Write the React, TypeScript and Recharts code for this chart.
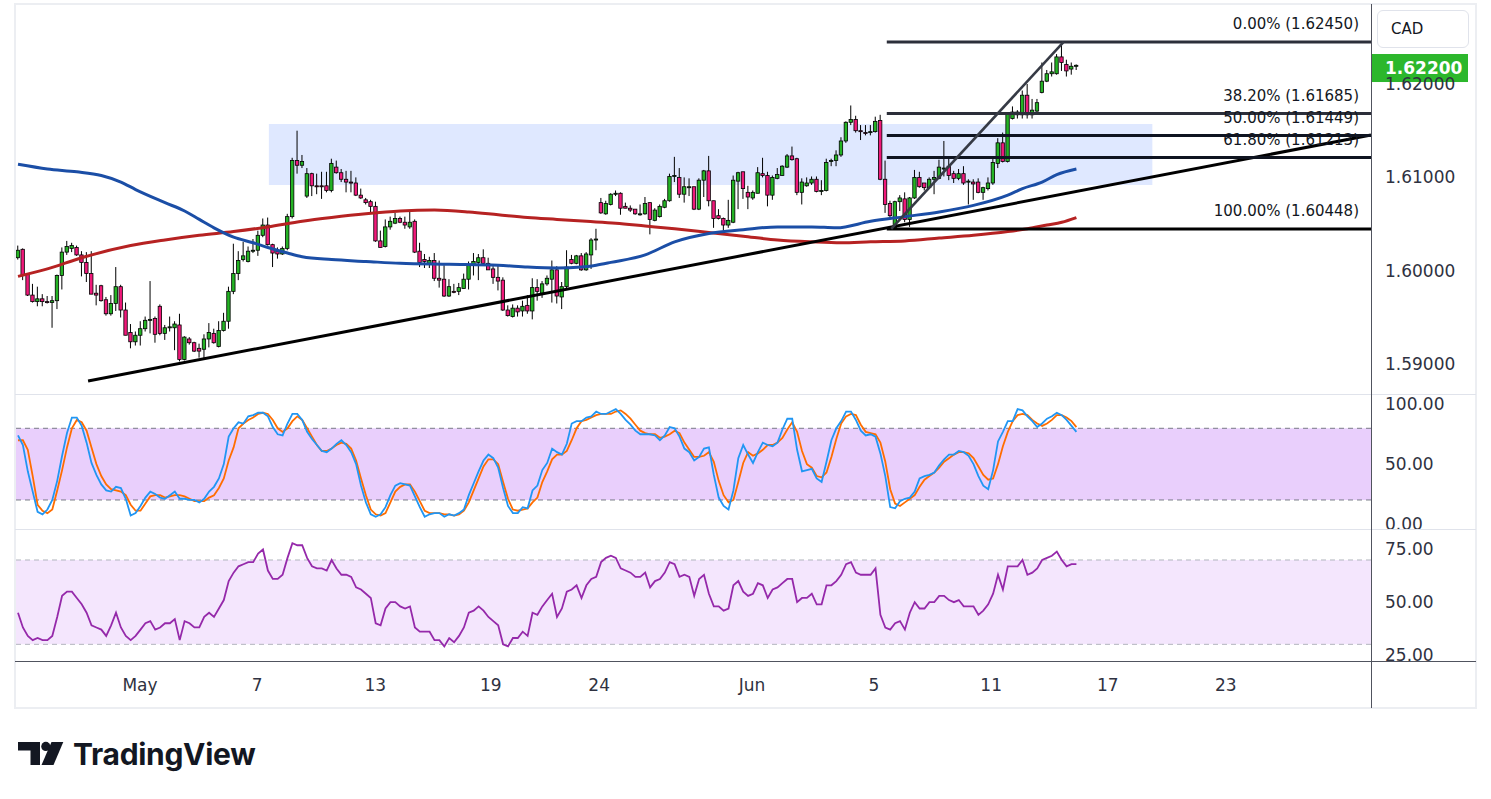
import React from "react";
import {
  Bar,
  ComposedChart,
  Line,
  ReferenceArea,
  ReferenceLine,
  XAxis,
  YAxis,
} from "recharts";

// EUR/CAD style 4h chart.
// One tuple per bar: [open, high, low, close]
const ohlc: [number, number, number, number][] = [
  [1.6014, 1.6027, 1.6012, 1.6022], [1.6023, 1.6024, 1.599, 1.5995], [1.5996, 1.5997, 1.5973, 1.5974],
  [1.5974, 1.5986, 1.5966, 1.5967], [1.5967, 1.5983, 1.5962, 1.597], [1.597, 1.5975, 1.5962, 1.5967],
  [1.5967, 1.5973, 1.5965, 1.5966], [1.5966, 1.5973, 1.5939, 1.5968], [1.5968, 1.5996, 1.5959, 1.5995],
  [1.5995, 1.6025, 1.598, 1.602], [1.602, 1.6032, 1.6017, 1.6026], [1.6024, 1.603, 1.602, 1.6027],
  [1.6025, 1.6027, 1.6016, 1.6017], [1.6017, 1.6021, 1.5994, 1.6009], [1.6009, 1.602, 1.5988, 1.5997],
  [1.5997, 1.6021, 1.5975, 1.5975], [1.5976, 1.5985, 1.5963, 1.5974], [1.5984, 1.5985, 1.5967, 1.5968],
  [1.5969, 1.5972, 1.5952, 1.5954], [1.5954, 1.5974, 1.5952, 1.5965], [1.5965, 1.6004, 1.5957, 1.5983],
  [1.5983, 1.5985, 1.595, 1.5958], [1.5958, 1.5966, 1.5931, 1.5931], [1.5934, 1.5943, 1.5917, 1.5924],
  [1.5924, 1.5935, 1.592, 1.5931], [1.5931, 1.5946, 1.592, 1.5938], [1.5938, 1.5951, 1.5935, 1.5947],
  [1.5947, 1.5989, 1.5933, 1.5948], [1.5949, 1.5951, 1.5923, 1.5932], [1.5962, 1.5964, 1.5931, 1.5933],
  [1.5933, 1.5942, 1.5926, 1.5939], [1.5939, 1.5951, 1.5935, 1.594], [1.5939, 1.5946, 1.5915, 1.5943],
  [1.5942, 1.5954, 1.5903, 1.5905], [1.5905, 1.593, 1.5904, 1.5929], [1.5927, 1.5929, 1.5921, 1.5923],
  [1.5923, 1.5924, 1.5913, 1.5914], [1.5917, 1.5922, 1.5907, 1.5914], [1.5916, 1.5932, 1.5906, 1.5927],
  [1.5927, 1.5944, 1.5918, 1.5934], [1.5933, 1.5938, 1.5922, 1.5923], [1.5919, 1.5946, 1.5918, 1.5936],
  [1.5936, 1.5955, 1.5935, 1.5946], [1.5946, 1.5983, 1.5938, 1.5978], [1.5978, 1.6029, 1.5975, 1.5997],
  [1.5997, 1.6021, 1.599, 1.6011], [1.6012, 1.6031, 1.601, 1.6016], [1.601, 1.6026, 1.6009, 1.6021],
  [1.6021, 1.6034, 1.6019, 1.6022], [1.6022, 1.6043, 1.6016, 1.6038], [1.6038, 1.6056, 1.6036, 1.6049],
  [1.6049, 1.6057, 1.6027, 1.6028], [1.6028, 1.6029, 1.6004, 1.6019], [1.6021, 1.6025, 1.6013, 1.6018],
  [1.6018, 1.6026, 1.6017, 1.6024], [1.6024, 1.6061, 1.6022, 1.6058], [1.6058, 1.6121, 1.6056, 1.6118],
  [1.6118, 1.615, 1.6104, 1.6113], [1.6113, 1.6124, 1.611, 1.6117], [1.608, 1.611, 1.6078, 1.6104],
  [1.6104, 1.6105, 1.608, 1.6091], [1.6091, 1.6104, 1.6082, 1.609], [1.6091, 1.6106, 1.6077, 1.609],
  [1.6091, 1.6106, 1.6084, 1.6086], [1.6086, 1.612, 1.6084, 1.6115], [1.6111, 1.6118, 1.6104, 1.6105],
  [1.6105, 1.6109, 1.6095, 1.6098], [1.6098, 1.6107, 1.6084, 1.6095], [1.6095, 1.6107, 1.6084, 1.6094],
  [1.6094, 1.61, 1.608, 1.6081], [1.6081, 1.6088, 1.6077, 1.6078], [1.6076, 1.6078, 1.6071, 1.6073],
  [1.6074, 1.6076, 1.6062, 1.6069], [1.6069, 1.6074, 1.6031, 1.6032], [1.6032, 1.6043, 1.6025, 1.6025],
  [1.6026, 1.6055, 1.6025, 1.6047], [1.6047, 1.6058, 1.6044, 1.6053], [1.6051, 1.6062, 1.605, 1.6056],
  [1.6056, 1.6058, 1.6051, 1.6052], [1.6052, 1.6058, 1.6045, 1.6049], [1.6047, 1.6065, 1.6045, 1.6052],
  [1.6053, 1.6055, 1.6019, 1.602], [1.6021, 1.603, 1.6004, 1.6009], [1.6012, 1.6018, 1.6003, 1.601],
  [1.6008, 1.6015, 1.6003, 1.6011], [1.6011, 1.6019, 1.5989, 1.5992], [1.5992, 1.6011, 1.5982, 1.599],
  [1.5991, 1.6006, 1.5972, 1.5973], [1.5973, 1.5991, 1.5972, 1.5983], [1.5978, 1.5986, 1.5976, 1.5977],
  [1.5978, 1.5987, 1.5974, 1.5982], [1.5981, 1.5997, 1.5981, 1.5991], [1.5991, 1.601, 1.598, 1.6007],
  [1.6007, 1.6019, 1.5995, 1.601], [1.6009, 1.6018, 1.599, 1.6014], [1.6014, 1.6023, 1.6007, 1.6008],
  [1.6008, 1.6014, 1.6001, 1.6001], [1.6002, 1.6005, 1.5986, 1.5993], [1.5993, 1.6006, 1.5979, 1.5989],
  [1.599, 1.5993, 1.5957, 1.5958], [1.5958, 1.5963, 1.5951, 1.5952], [1.5951, 1.5964, 1.595, 1.596],
  [1.596, 1.5963, 1.5951, 1.5956], [1.5957, 1.5968, 1.5951, 1.5962], [1.5963, 1.5974, 1.5954, 1.5957],
  [1.5957, 1.5992, 1.5948, 1.5982], [1.5982, 1.5991, 1.5968, 1.5978], [1.5976, 1.5989, 1.5971, 1.5986],
  [1.5986, 1.5995, 1.5984, 1.5992], [1.5991, 1.6011, 1.5966, 1.6001], [1.6001, 1.6005, 1.5965, 1.5973],
  [1.5972, 1.5988, 1.5959, 1.5983], [1.5983, 1.6022, 1.5981, 1.6004], [1.6012, 1.6017, 1.6007, 1.6008],
  [1.6008, 1.6017, 1.6007, 1.6016], [1.6016, 1.6019, 1.6, 1.6001], [1.6001, 1.602, 1.6, 1.6018],
  [1.6017, 1.6035, 1.6002, 1.6033], [1.6033, 1.6045, 1.6022, 1.6034], [1.6073, 1.6078, 1.6061, 1.6062],
  [1.6061, 1.6075, 1.606, 1.6072], [1.6071, 1.6083, 1.607, 1.6082], [1.6082, 1.6086, 1.608, 1.6083],
  [1.6083, 1.6084, 1.606, 1.6067], [1.6069, 1.6073, 1.6067, 1.6067], [1.6067, 1.607, 1.6063, 1.6065],
  [1.6066, 1.6066, 1.606, 1.6061], [1.6061, 1.6071, 1.6059, 1.6061], [1.6061, 1.6079, 1.606, 1.6072],
  [1.6073, 1.6073, 1.6039, 1.6055], [1.6054, 1.6067, 1.6053, 1.6065], [1.6058, 1.6071, 1.6057, 1.6069],
  [1.6068, 1.6077, 1.6067, 1.6075], [1.6075, 1.6104, 1.6074, 1.6101], [1.6101, 1.6122, 1.6095, 1.6102],
  [1.61, 1.611, 1.6078, 1.6082], [1.6082, 1.61, 1.6073, 1.609], [1.609, 1.6099, 1.608, 1.609],
  [1.609, 1.609, 1.6065, 1.6066], [1.6066, 1.6099, 1.6065, 1.6097], [1.6097, 1.6108, 1.6079, 1.6107],
  [1.6107, 1.6123, 1.6069, 1.6075], [1.6075, 1.6075, 1.6046, 1.6056], [1.6059, 1.6066, 1.6055, 1.6056],
  [1.6056, 1.6057, 1.6043, 1.6049], [1.6049, 1.6076, 1.6046, 1.6054], [1.6052, 1.6102, 1.6051, 1.6097],
  [1.6096, 1.6106, 1.6066, 1.6105], [1.6106, 1.6106, 1.6077, 1.6088], [1.6084, 1.6091, 1.6066, 1.6079],
  [1.6078, 1.6086, 1.6076, 1.6084], [1.6083, 1.6111, 1.6083, 1.6105], [1.6104, 1.6121, 1.61, 1.6102],
  [1.6102, 1.6106, 1.6069, 1.6081], [1.6081, 1.6102, 1.6076, 1.61], [1.6099, 1.611, 1.6098, 1.6103],
  [1.6102, 1.6113, 1.6102, 1.6112], [1.6111, 1.6125, 1.611, 1.6123], [1.6123, 1.6133, 1.6118, 1.6119],
  [1.612, 1.6121, 1.6081, 1.6084], [1.6084, 1.6099, 1.6071, 1.6095], [1.6091, 1.61, 1.609, 1.6094],
  [1.6094, 1.6101, 1.6092, 1.6098], [1.6098, 1.6101, 1.6084, 1.6085], [1.6086, 1.6097, 1.6081, 1.6086],
  [1.6086, 1.612, 1.6085, 1.6116], [1.6117, 1.612, 1.6112, 1.6118], [1.6118, 1.6129, 1.6112, 1.6124],
  [1.6124, 1.6143, 1.6122, 1.6139], [1.6139, 1.616, 1.6137, 1.6159], [1.6159, 1.6177, 1.6156, 1.6162],
  [1.6162, 1.6166, 1.6148, 1.615], [1.615, 1.6156, 1.614, 1.6149], [1.6148, 1.6156, 1.6145, 1.6147],
  [1.6148, 1.6156, 1.6145, 1.6149], [1.6149, 1.6165, 1.6148, 1.616], [1.6161, 1.6167, 1.6097, 1.6098],
  [1.6098, 1.6118, 1.6062, 1.6071], [1.6072, 1.6075, 1.6057, 1.6059], [1.6046, 1.6075, 1.6045, 1.6074],
  [1.6074, 1.6081, 1.6064, 1.6078], [1.6077, 1.6084, 1.6052, 1.6055], [1.6055, 1.6079, 1.6047, 1.6078],
  [1.6078, 1.6108, 1.6077, 1.61], [1.61, 1.6106, 1.6089, 1.609], [1.6094, 1.6094, 1.6086, 1.6089],
  [1.6089, 1.61, 1.6088, 1.6098], [1.6098, 1.6107, 1.6082, 1.61], [1.6099, 1.6119, 1.6098, 1.6111],
  [1.611, 1.6139, 1.6101, 1.611], [1.6112, 1.612, 1.6097, 1.6102], [1.6104, 1.6107, 1.6094, 1.6099],
  [1.6099, 1.6109, 1.6097, 1.6104], [1.6104, 1.6112, 1.6092, 1.6094], [1.6095, 1.6098, 1.6071, 1.6096],
  [1.6095, 1.6098, 1.6076, 1.6093], [1.6095, 1.6099, 1.6083, 1.6084], [1.6084, 1.609, 1.6076, 1.6089],
  [1.6088, 1.61, 1.6086, 1.6094], [1.6094, 1.6122, 1.6092, 1.6116], [1.6115, 1.6142, 1.611, 1.6137],
  [1.6137, 1.6148, 1.6116, 1.6117], [1.6117, 1.617, 1.6116, 1.6169], [1.6163, 1.6176, 1.6162, 1.617],
  [1.6167, 1.6172, 1.6163, 1.617], [1.6167, 1.6193, 1.6163, 1.6188], [1.6188, 1.62, 1.6163, 1.6167],
  [1.6167, 1.6184, 1.6163, 1.6172], [1.6171, 1.6184, 1.617, 1.618], [1.6191, 1.6223, 1.619, 1.6203],
  [1.6203, 1.6215, 1.6202, 1.6211], [1.6211, 1.6223, 1.6208, 1.6213], [1.6211, 1.6232, 1.621, 1.6229],
  [1.6229, 1.6245, 1.6214, 1.6223], [1.6221, 1.6226, 1.6208, 1.6214], [1.6216, 1.6223, 1.621, 1.6219],
  [1.6219, 1.6221, 1.6215, 1.622],
];

// Stochastic %K / %D and RSI, one value per bar
const stochK = [
  74, 66, 44, 27, 10, 8, 12, 20, 36, 57, 76, 89, 89, 82, 68, 51, 41, 33, 28, 27, 31, 30, 21, 7, 9, 15, 22, 27, 25, 22,
  21, 24, 27, 21, 21, 20, 20, 18, 21, 27, 31, 38, 50, 73, 80, 85, 84, 90, 91, 93, 93, 90, 81, 75, 74, 84, 92, 92, 87, 77,
  71, 66, 61, 60, 63, 67, 70, 66, 60, 50, 32, 18, 8, 6, 8, 14, 24, 32, 34, 33, 32, 23, 14, 6, 8, 9, 9, 6, 8, 7,
  9, 12, 24, 34, 44, 53, 58, 55, 47, 30, 15, 9, 9, 14, 13, 28, 32, 45, 51, 63, 60, 58, 67, 84, 86, 86, 89, 90, 94, 92,
  92, 94, 96, 92, 87, 83, 78, 75, 75, 75, 74, 70, 74, 81, 80, 73, 63, 60, 53, 56, 63, 64, 41, 22, 15, 12, 28, 55, 66, 58,
  51, 60, 68, 66, 65, 68, 79, 88, 88, 62, 44, 45, 46, 38, 35, 52, 70, 80, 86, 94, 94, 87, 78, 74, 75, 73, 59, 40, 14, 13,
  19, 21, 22, 27, 38, 40, 41, 43, 49, 54, 58, 58, 61, 60, 57, 50, 40, 32, 29, 45, 69, 77, 86, 86, 96, 95, 90, 86, 81, 84,
  88, 90, 93, 91, 87, 82, 77,
];
const stochD = [
  70, 70, 62, 40, 16, 11, 9, 12, 28, 45, 64, 80, 87, 85, 78, 64, 50, 40, 33, 29, 28, 27, 24, 16, 11, 11, 17, 23, 24, 24,
  22, 23, 24, 24, 23, 21, 19, 19, 19, 22, 24, 30, 38, 53, 64, 80, 84, 87, 89, 92, 93, 92, 87, 80, 77, 80, 86, 90, 87, 80,
  73, 66, 61, 61, 63, 66, 68, 67, 63, 53, 38, 24, 12, 8, 7, 9, 18, 27, 31, 33, 33, 27, 19, 11, 9, 9, 9, 8, 8, 7,
  8, 11, 18, 28, 38, 48, 54, 54, 50, 35, 21, 12, 11, 12, 13, 18, 22, 35, 44, 54, 58, 58, 61, 70, 80, 86, 87, 89, 91, 92,
  92, 92, 94, 95, 92, 88, 83, 78, 76, 75, 75, 72, 73, 75, 78, 76, 68, 62, 56, 56, 57, 60, 52, 36, 24, 18, 20, 35, 51, 60,
  57, 59, 62, 66, 66, 68, 72, 79, 85, 77, 61, 50, 47, 40, 39, 43, 56, 71, 84, 90, 92, 91, 83, 77, 76, 75, 68, 52, 29, 17,
  15, 18, 21, 24, 31, 37, 40, 43, 47, 52, 55, 58, 60, 60, 59, 55, 48, 41, 37, 38, 50, 65, 77, 86, 91, 92, 91, 87, 84, 82,
  84, 87, 91, 91, 89, 86, 81,
];
const rsiLine = [
  45, 38, 34, 32, 33, 32, 32, 34, 43, 53, 55, 55, 52, 49, 45, 39, 38, 37, 34, 39, 45, 38, 34, 32, 34, 37, 40, 41, 37, 38,
  40, 40, 42, 32, 41, 40, 38, 38, 43, 45, 43, 47, 51, 60, 64, 67, 68, 69, 69, 73, 75, 65, 61, 61, 63, 71, 78, 77, 77, 71,
  67, 66, 66, 65, 70, 66, 63, 63, 62, 57, 56, 54, 52, 40, 39, 47, 50, 50, 48, 47, 48, 38, 36, 36, 36, 32, 32, 29, 33, 31,
  34, 38, 45, 46, 48, 46, 43, 41, 39, 30, 29, 33, 33, 36, 34, 45, 44, 48, 51, 54, 43, 47, 55, 56, 58, 52, 58, 61, 62, 69,
  71, 72, 71, 66, 65, 64, 62, 62, 64, 57, 60, 61, 64, 69, 68, 62, 63, 62, 53, 61, 63, 54, 48, 48, 46, 47, 58, 60, 55, 53,
  54, 59, 58, 52, 56, 57, 59, 61, 61, 50, 52, 52, 54, 49, 49, 58, 58, 60, 63, 68, 69, 64, 63, 63, 63, 66, 44, 38, 37, 40,
  41, 37, 45, 50, 47, 47, 50, 50, 53, 53, 51, 50, 51, 48, 48, 48, 44, 46, 49, 54, 63, 56, 67, 67, 67, 70, 63, 64, 66, 70,
  71, 72, 74, 70, 67, 68, 68,
];

// Moving averages, read at a handful of bars: [bar index, price]
const blueMa: [number, number][] = [
  [0, 1.6114], [6, 1.6109], [12, 1.6106], [17, 1.6102], [21, 1.6095], [24, 1.6087], [30, 1.6073], [34, 1.6064],
  [37, 1.6055], [40, 1.6046], [44, 1.6036], [48, 1.603], [51, 1.6025], [55, 1.6019], [58, 1.6015], [64, 1.6012],
  [71, 1.601], [78, 1.6008], [88, 1.6007], [98, 1.6006], [104, 1.6004], [110, 1.6003], [115, 1.6004], [118, 1.6006],
  [121, 1.6009], [128, 1.6017], [134, 1.6031], [141, 1.604], [148, 1.6044], [155, 1.6047], [162, 1.6047], [167, 1.6046],
  [174, 1.6053], [181, 1.6058], [188, 1.6063], [195, 1.607], [202, 1.6081], [205, 1.6088], [209, 1.6095], [212, 1.6103],
  [216, 1.6109],
];
const redMa: [number, number][] = [
  [0, 1.5994], [6, 1.6002], [13, 1.6014], [23, 1.6027], [30, 1.6033], [37, 1.6038], [44, 1.6042], [51, 1.6047],
  [58, 1.6053], [64, 1.6057], [71, 1.6061], [78, 1.6064], [85, 1.6065], [92, 1.6063], [98, 1.606], [104, 1.6057],
  [110, 1.6055], [116, 1.6053], [122, 1.6051], [128, 1.6048], [134, 1.6045], [141, 1.6041], [148, 1.6037], [155, 1.6033],
  [162, 1.6031], [168, 1.603], [174, 1.6031], [181, 1.6032], [188, 1.6035], [195, 1.6038], [202, 1.6042], [206, 1.6045],
  [210, 1.6049], [213, 1.6052], [216, 1.6057],
];

// Drawings (bar index, price)
const supplyZone = { from: 51.2, to: 231.5, low: 1.60919, high: 1.61572 };
const trendLine: [number, number][] = [[14.3, 1.5882], [276.12, 1.61454]];
const swingLine: [number, number][] = [[178.2, 1.60448], [213.4, 1.6245]];
const fibStart = 177.3;
const fibLevels = [
  { label: "0.00%", price: 1.6245 },
  { label: "38.20%", price: 1.61685 },
  { label: "50.00%", price: 1.61449 },
  { label: "61.80%", price: 1.61213 },
  { label: "100.00%", price: 1.60448 },
];
const lastPrice = 1.622;

// Axes
const xDomain: [number, number] = [-0.612, 276.12];
const timeTicks = [24.9, 48.8, 72.9, 96.5, 118.6, 149.8, 174.7, 198.6, 222.4, 246.5];
const timeLabels = ["May", "7", "13", "19", "24", "Jun", "5", "11", "17", "23"];
const priceTicks = [1.59, 1.6, 1.61, 1.62];
const priceDomain: [number, number] = [1.586809, 1.628458];
const stochTicks = [0, 50, 100];
const stochDomain: [number, number] = [-4.3, 108.7];
const rsiTicks = [25, 50, 75];
const rsiDomain: [number, number] = [22.1, 84.7];

const blueAt = new Map(blueMa);
const redAt = new Map(redMa);
const rows = ohlc.map(([o, h, l, c], i) => ({
  i,
  o,
  h,
  l,
  c,
  range: [l, h],
  k: stochK[i],
  d: stochD[i],
  rsi: rsiLine[i],
  maBlue: blueAt.get(i),
  maRed: redAt.get(i),
}));

const FONT = "DejaVu Sans, sans-serif";
const AXIS_TEXT = "#2f3241";
const UP = "#24b324";
const DOWN = "#f0197a";
const fibColors = ["#2c2f3a", "#2c2f3a", "#0f1420", "#0f1420", "#000000"];
const tickStyle = { fontSize: 17, fontFamily: FONT, fill: AXIS_TEXT };

function Candle(props: any) {
  const { x, y, width, height, payload } = props;
  if (!payload || x == null || y == null || height == null) return null;
  const top = Math.min(y, y + height);
  const span = Math.abs(height);
  const { o, h, l, c } = payload;
  const toY = (p: number) => top + (h === l ? 0 : ((h - p) / (h - l)) * span);
  const cx = x + width / 2;
  const yo = toY(o);
  const yc = toY(c);
  const bodyTop = Math.min(yo, yc);
  const bodyH = Math.max(Math.abs(yo - yc), 1);
  return (
    <g>
      <line x1={cx} x2={cx} y1={top} y2={top + span} stroke="#000" strokeWidth={1} />
      <rect
        x={cx - 1.7}
        y={bodyTop}
        width={3.4}
        height={bodyH}
        fill={c >= o ? UP : DOWN}
        stroke="#000"
        strokeWidth={0.8}
      />
    </g>
  );
}

const fibLabel = (text: string) => (props: any) => {
  const vb = props.viewBox || {};
  const x = (vb.x ?? 0) + (vb.width ?? 0) - 12;
  const y = (vb.y ?? 0) - 12.5;
  return (
    <text x={x} y={y} textAnchor="end" fontSize={15} fontFamily={FONT} fill="#131722">
      {text}
    </text>
  );
};

const priceTag = (props: any) => {
  const vb = props.viewBox || {};
  const right = (vb.x ?? 0) + (vb.width ?? 0);
  const cy = (vb.y ?? 0) + 2.7;
  return (
    <g>
      <rect x={right + 1} y={cy - 14} width={96} height={28} fill="#2cb72c" />
      <text
        x={right + 14}
        y={cy + 6}
        fontSize={17}
        fontFamily={FONT}
        fill="#ffffff"
        fontWeight={600}
      >
        {lastPrice.toFixed(5)}
      </text>
    </g>
  );
};

const box = (style: React.CSSProperties): React.CSSProperties => ({
  position: "absolute",
  pointerEvents: "none",
  ...style,
});

export default function App() {
  const margin = { top: 0, right: 15, bottom: 0, left: 15 };

  return (
    <div
      style={{
        position: "absolute",
        left: 0,
        top: 0,
        width: 1491,
        height: 799,
        background: "#ffffff",
        overflow: "hidden",
      }}
    >
      {/* price panel */}
      <div style={box({ left: 0, top: 5 })}>
        <ComposedChart width={1491} height={389} data={rows} margin={margin}>
          <XAxis dataKey="i" type="number" domain={xDomain} allowDataOverflow hide />
          <YAxis
            orientation="right"
            width={105}
            domain={priceDomain}
            allowDataOverflow
            ticks={priceTicks}
            interval={0}
            tickFormatter={(v: number) => v.toFixed(5)}
            axisLine={false}
            tickLine={false}
            tickMargin={8}
            tick={tickStyle}
          />
          <ReferenceArea
            x1={supplyZone.from}
            x2={supplyZone.to}
            y1={supplyZone.low}
            y2={supplyZone.high}
            fill="#2962ff"
            fillOpacity={0.15}
            stroke="none"
            ifOverflow="visible"
          />
          <Bar
            dataKey="range"
            barSize={5}
            isAnimationActive={false}
            shape={(p: any) => <Candle {...p} />}
          />
          <Line
            dataKey="maRed"
            type="monotone"
            stroke="#b62222"
            strokeWidth={3}
            dot={false}
            activeDot={false}
            connectNulls
            isAnimationActive={false}
          />
          <Line
            dataKey="maBlue"
            type="monotone"
            stroke="#1b4ea6"
            strokeWidth={3}
            dot={false}
            activeDot={false}
            connectNulls
            isAnimationActive={false}
          />
          <ReferenceLine
            segment={[
              { x: trendLine[0][0], y: trendLine[0][1] },
              { x: trendLine[1][0], y: trendLine[1][1] },
            ]}
            stroke="#000000"
            strokeWidth={3}
            ifOverflow="visible"
          />
          {fibLevels.map((f, idx) => (
            <ReferenceLine
              key={f.label}
              segment={[
                { x: fibStart, y: f.price },
                { x: xDomain[1], y: f.price },
              ]}
              stroke={fibColors[idx]}
              strokeWidth={3}
              ifOverflow="visible"
              label={fibLabel(`${f.label} (${f.price.toFixed(5)})`)}
            />
          ))}
          <ReferenceLine
            segment={[
              { x: swingLine[0][0], y: swingLine[0][1] },
              { x: swingLine[1][0], y: swingLine[1][1] },
            ]}
            stroke="#363a45"
            strokeWidth={2.6}
            ifOverflow="visible"
          />
          <ReferenceLine y={lastPrice} stroke="#000" strokeOpacity={0} label={priceTag} />
        </ComposedChart>
      </div>

      {/* stochastic panel */}
      <div style={box({ left: 0, top: 394 })}>
        <ComposedChart width={1491} height={135} data={rows} margin={margin}>
          <XAxis dataKey="i" type="number" domain={xDomain} allowDataOverflow hide />
          <YAxis
            orientation="right"
            width={105}
            domain={stochDomain}
            allowDataOverflow
            ticks={stochTicks}
            interval={0}
            tickFormatter={(v: number) => v.toFixed(2)}
            axisLine={false}
            tickLine={false}
            tickMargin={8}
            tick={tickStyle}
          />
          <ReferenceArea y1={20} y2={80} fill="#e9cffc" fillOpacity={1} stroke="none" />
          <ReferenceLine y={80} stroke="#787b86" strokeDasharray="5 4" />
          <ReferenceLine y={20} stroke="#787b86" strokeDasharray="5 4" />
          <Line
            dataKey="d"
            stroke="#ff6d00"
            strokeWidth={1.8}
            dot={false}
            activeDot={false}
            isAnimationActive={false}
          />
          <Line
            dataKey="k"
            stroke="#2196f3"
            strokeWidth={1.8}
            dot={false}
            activeDot={false}
            isAnimationActive={false}
          />
        </ComposedChart>
      </div>

      {/* RSI panel + time axis */}
      <div style={box({ left: 0, top: 529 })}>
        <ComposedChart width={1491} height={179} data={rows} margin={margin}>
          <XAxis
            dataKey="i"
            type="number"
            domain={xDomain}
            allowDataOverflow
            ticks={timeTicks}
            interval={0}
            height={47}
            tickFormatter={(v: number) => timeLabels[timeTicks.indexOf(v)] ?? ""}
            axisLine={false}
            tickLine={false}
            tickMargin={12}
            tick={tickStyle}
          />
          <YAxis
            orientation="right"
            width={105}
            domain={rsiDomain}
            allowDataOverflow
            ticks={rsiTicks}
            interval={0}
            tickFormatter={(v: number) => v.toFixed(2)}
            axisLine={false}
            tickLine={false}
            tickMargin={8}
            tick={tickStyle}
          />
          <ReferenceArea y1={30} y2={70} fill="#f4e6fd" fillOpacity={1} stroke="none" />
          <ReferenceLine y={70} stroke="#b2b5be" strokeDasharray="5 4" />
          <ReferenceLine y={30} stroke="#b2b5be" strokeDasharray="5 4" />
          <Line
            dataKey="rsi"
            stroke="#9529aa"
            strokeWidth={1.8}
            dot={false}
            activeDot={false}
            isAnimationActive={false}
          />
        </ComposedChart>
      </div>

      {/* frame, separators and scale lines */}
      <div style={box({ left: 1372, top: 662, width: 103, height: 45, background: "#ffffff" })} />
      <div
        style={box({
          left: 14,
          top: 3,
          width: 1463,
          height: 706,
          border: "2px solid #eceef2",
          boxSizing: "border-box",
        })}
      />
      <div style={box({ left: 15, top: 394, width: 1461, height: 1, background: "#e0e3eb" })} />
      <div style={box({ left: 15, top: 529, width: 1461, height: 1, background: "#e0e3eb" })} />
      <div style={box({ left: 15, top: 661, width: 1461, height: 1, background: "#50535e" })} />
      <div style={box({ left: 1371, top: 4, width: 1, height: 704, background: "#50535e" })} />

      {/* currency box */}
      <div
        style={box({
          left: 1377,
          top: 10,
          width: 92,
          height: 38,
          border: "1px solid #e0e3eb",
          borderRadius: 6,
          boxSizing: "border-box",
          background: "#ffffff",
          fontFamily: FONT,
          fontSize: 15,
          color: "#131722",
          lineHeight: "36px",
          paddingLeft: 13,
        })}
      >
        CAD
      </div>

      {/* TradingView logo */}
      <svg style={box({ left: 0, top: 730 })} width={300} height={50}>
        <g transform="translate(0,-730)">
          <rect x={18} y={742} width={22} height={8.5} fill="#131722" />
          <rect x={30.5} y={742} width={9.5} height={23} fill="#131722" />
          <circle cx={45.8} cy={746.4} r={4.6} fill="#131722" />
          <polygon points="51.5,742 63.3,742 53.5,765 41.5,765" fill="#131722" />
          <text
            x={73}
            y={765}
            fontFamily="Inter, sans-serif"
            fontWeight={700}
            fontSize={30}
            fill="#131722"
            letterSpacing={-0.3}
          >
            TradingView
          </text>
        </g>
      </svg>
    </div>
  );
}
